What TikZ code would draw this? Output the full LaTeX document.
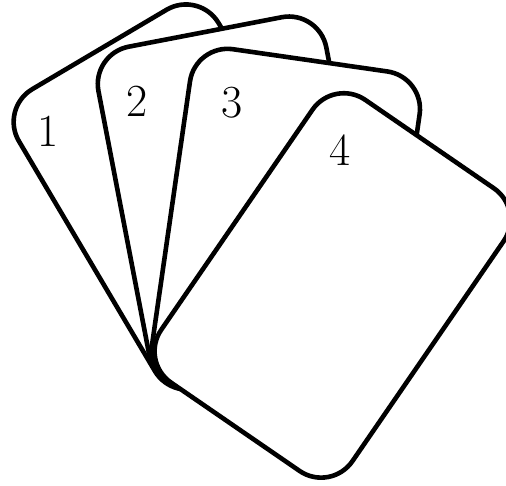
\documentclass[tikz,border=0pt]{standalone}
\begin{document}
\begin{tikzpicture}[x=1pt,y=1pt,
  card/.style={draw=black, fill=white, line width=4.6pt, rounded corners=38pt, line join=round},
  lbl/.style={font=\fontsize{46}{50}\selectfont, inner sep=0pt}]
\useasboundingbox (0,0) rectangle (506,-485);
% card 1 (shift = top-left corner)
\begin{scope}[shift={(-0.4,-108.5)}, rotate=30.6]
  \draw[card] (0,0) rectangle (232,-343);
\end{scope}
% card 2
\begin{scope}[shift={(91.3,-53.9)}, rotate=10.9]
  \draw[card] (0,0) rectangle (232,-343);
\end{scope}
% card 3
\begin{scope}[shift={(195.4,-43.8)}, rotate=-8.2]
  \draw[card] (0,0) rectangle (232,-343);
\end{scope}
% card 4
\begin{scope}[shift={(334,-78.4)}, rotate=-34.5]
  \draw[card] (0,0) rectangle (232,-343);
\end{scope}
\node[lbl] (n1) at (48,-131) {1};
\node[lbl] (n2) at (137.5,-101) {2};
\node[lbl] (n3) at (232,-102.5) {3};
\node[lbl] (n4) at (340.5,-150) {4};
\end{tikzpicture}
\end{document}
